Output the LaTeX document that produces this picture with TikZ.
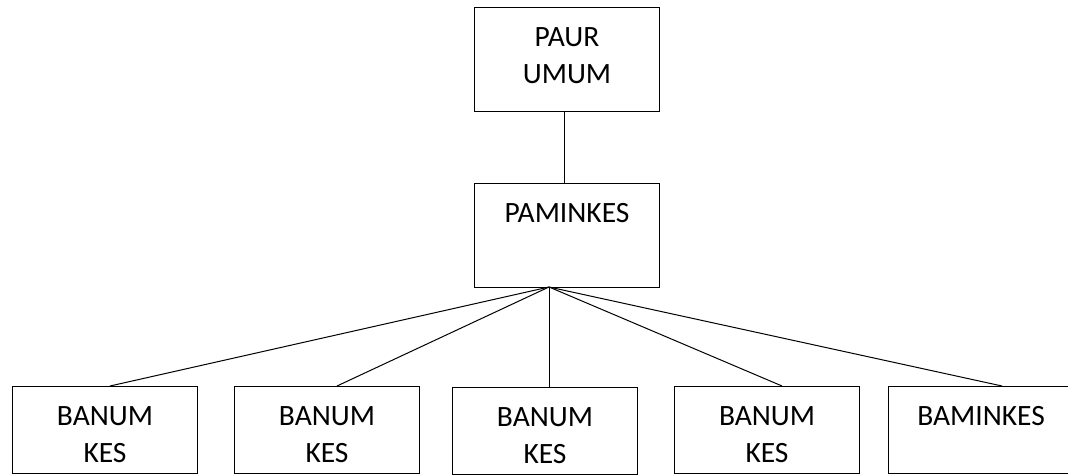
\documentclass[tikz,border=0pt]{standalone}
\usepackage{fontspec}
\setmainfont{Carlito}
\begin{document}
\begin{tikzpicture}[x=1pt,y=1pt,
  box/.style={draw, line width=1pt, minimum width=185pt, inner sep=0pt, anchor=north west},
  tallbox/.style={box, minimum height=104pt},
  lowbox/.style={box, minimum height=87pt},
  lbl/.style={font=\fontsize{29.5}{37}\selectfont, align=center, inner sep=0pt, anchor=north},
  link/.style={line width=1pt}]
\useasboundingbox (0,0) rectangle (1068,475);
\clip (0,0) rectangle (1068,475);
% top and middle boxes
\node[tallbox] (paur) at (474,468) {};
\node[tallbox] (pamin) at (474,292) {};
% bottom boxes
\node[lowbox] (b1) at (12,89) {};
\node[lowbox] (b2) at (234,89) {};
\node[lowbox] (b3) at (452,88) {};
\node[lowbox] (b4) at (674,89) {};
\node[lowbox] (b5) at (888,89) {};
% texts
\node[lbl] (paurT) at ([yshift=-20pt]paur.north) {PAUR\\UMUM};
\node[lbl] (paminT) at ([yshift=-20pt]pamin.north) {PAMINKES};
\node[lbl] (b1T) at ([yshift=-20pt]b1.north) {BANUM\\KES};
\node[lbl] (b2T) at ([yshift=-20pt]b2.north) {BANUM\\KES};
\node[lbl] (b3T) at ([yshift=-20pt]b3.north) {BANUM\\KES};
\node[lbl] (b4T) at ([yshift=-20pt]b4.north) {BANUM\\KES};
\node[lbl] (b5T) at ([yshift=-20pt]b5.north) {BAMINKES};
% connectors
\coordinate (apex) at (549,188);
\draw[link] (paur.south -| 564,0) -- (pamin.north -| 564,0);
\draw[link] (apex) -- (b1.north -| 110,0);
\draw[link] (apex) -- (b2.north -| 337,0);
\draw[link] (apex) -- (b3.north -| 549,0);
\draw[link] (apex) -- (b4.north -| 782,0);
\draw[link] (apex) -- (b5.north -| 1002,0);
\end{tikzpicture}
\end{document}
